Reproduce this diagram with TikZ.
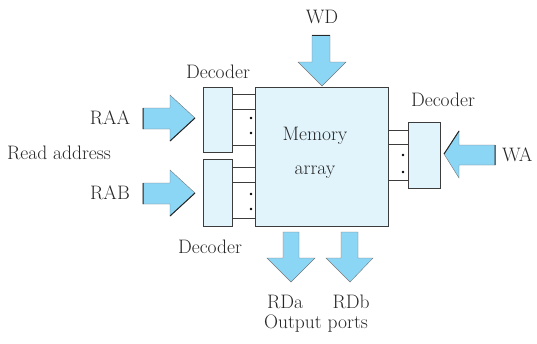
\documentclass[tikz,border=0pt]{standalone}
\definecolor{arrowblue}{RGB}{140,214,245}
\definecolor{memfill}{RGB}{225,244,252}
\definecolor{edge}{RGB}{60,60,60}
\begin{document}
\begin{tikzpicture}[x=1pt,y=-1pt,font=\fontsize{19.5}{22}\selectfont,
  box/.style={draw=edge,fill=memfill,line width=0.5pt,inner sep=0pt,anchor=north west},
  arr/.style={fill=arrowblue,draw=edge!70,line width=0.4pt},
  shade/.style={draw=black!85,line width=1pt},
  wire/.style={draw=edge,line width=0.5pt},
  lbl/.style={inner sep=1pt,text=black!85}]
\useasboundingbox (0,0) rectangle (537,343);
% memory and decoders
\node[box,minimum width=133pt,minimum height=139pt] (mem) at (255,87) {};
\node[box,minimum width=29pt,minimum height=65pt] (dec1) at (203,87) {};
\node[box,minimum width=29pt,minimum height=67pt] (dec2) at (203,159) {};
\node[box,minimum width=32pt,minimum height=66pt] (dec3) at (408,122) {};
\node[lbl] (memA) at (315,136) {Memory};
\node[lbl] (memB) at (315,172) {array};
% wires
\foreach \yy in {94,109,145,167,182,218}
  \draw[wire] (dec1.east |- 0,\yy) -- (mem.west |- 0,\yy);
\foreach \yy in {130,144,180}
  \draw[wire] (mem.east |- 0,\yy) -- (dec3.west |- 0,\yy);
\foreach \p in {(251,118),(251,133),(251,194),(251,209),(403,155),(403,172)}
  \fill \p circle (1.3);
% input arrows left
\draw[arr] (143,108) -- (170,108) -- (170,95) -- (195,118) -- (170,141) -- (170,129) -- (143,129) -- cycle;
\draw[shade] (143,108) -- (143,129) (195,118) -- (170,141);
\draw[arr] (143,183) -- (170,183) -- (170,170) -- (195,193) -- (170,216) -- (170,204) -- (143,204) -- cycle;
\draw[shade] (143,183) -- (143,204) (195,193) -- (170,216);
% WA
\draw[arr] (495,145) -- (459,145) -- (459,131) -- (444,154) -- (459,178) -- (459,165) -- (495,165) -- cycle;
\draw[shade] (495,145) -- (495,165) (444,154) -- (459,131);
% WD
\draw[arr] (312,35) -- (312,62) -- (298,62) -- (322,86) -- (346,62) -- (330,62) -- (330,35) -- cycle;
\draw[shade] (312,35) -- (330,35);
% outputs
\draw[arr] (283,232) -- (283,258) -- (267,258) -- (291,282) -- (315,258) -- (299,258) -- (299,232) -- cycle;
\draw[arr] (341,232) -- (341,258) -- (326,258) -- (350,282) -- (373,258) -- (358,258) -- (358,232) -- cycle;
% labels
\node[lbl] (raa) at (110,118) {RAA};
\node[lbl] (rab) at (110,193) {RAB};
\node[lbl,anchor=west] (ra) at (6,153) {Read address};
\node[lbl,anchor=west] (wa) at (501,155) {WA};
\node[lbl] (wd) at (322,17) {WD};
\node[lbl] (d1) at (218,72) {Decoder};
\node[lbl] (d3) at (443,100) {Decoder};
\node[lbl] (d2) at (210,247) {Decoder};
\node[lbl] (rda) at (285,302) {RDa};
\node[lbl] (rdb) at (351,302) {RDb};
\node[lbl] (op) at (316,324) {Output ports};
\end{tikzpicture}
\end{document}
